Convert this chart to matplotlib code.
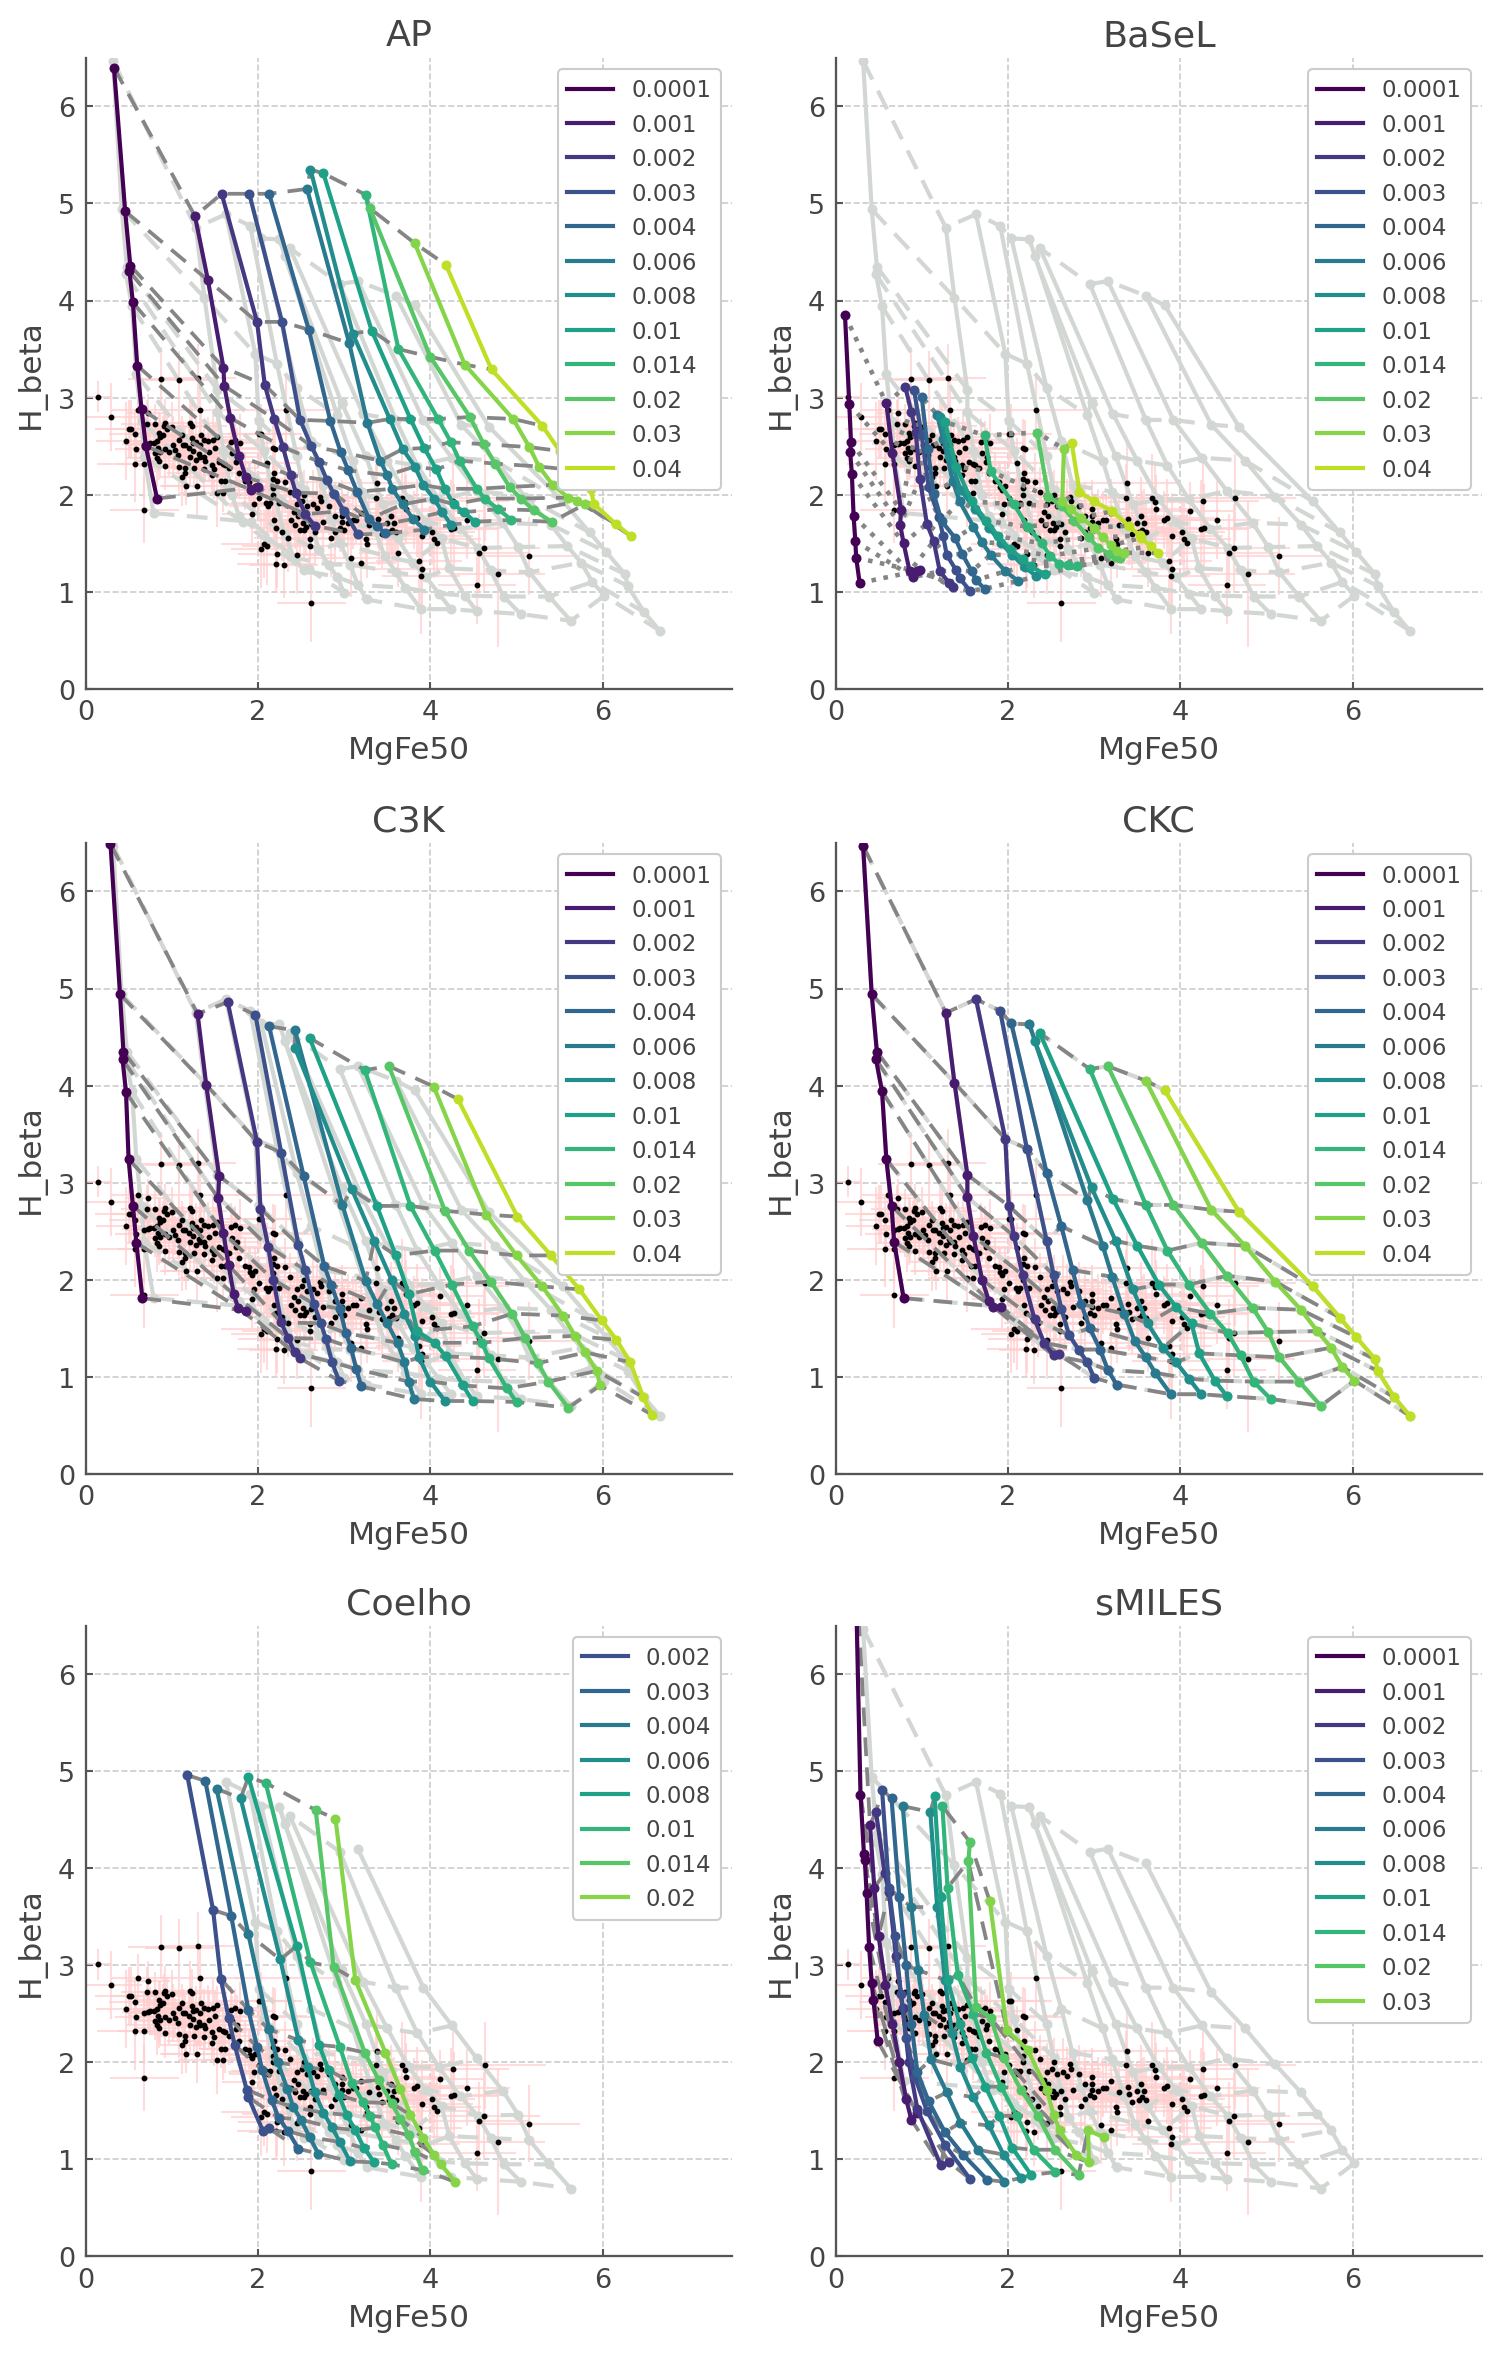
import matplotlib
matplotlib.use('Agg')
import matplotlib.pyplot as plt
from matplotlib.lines import Line2D

METALS = ['0.0001', '0.001', '0.002', '0.003', '0.004', '0.006',
          '0.008', '0.01', '0.014', '0.02', '0.03', '0.04']
COELHO_METALS = METALS[2:10]
SMILES_METALS = METALS[:11]

# observed galaxies (MgFe50, H_beta) with errors
OBS_MGFE = [
    0.15, 0.30, 0.88, 1.09, 1.30, 0.61, 0.73, 0.71, 0.81, 0.51,
    0.53, 0.57, 0.47, 0.59, 0.58, 0.68, 0.68, 0.92, 0.91, 0.95,
    1.00, 0.85, 0.90, 0.86, 0.83, 0.80, 0.75, 0.72, 0.68, 0.84,
    0.92, 0.86, 0.81, 0.83, 0.85, 0.92, 1.01, 1.04, 0.97, 1.07,
    1.13, 1.08, 1.12, 1.21, 1.24, 1.23, 1.25, 1.28, 1.33, 1.33,
    1.34, 1.37, 1.42, 1.48, 1.52, 1.32, 1.25, 1.20, 1.16, 1.21,
    1.28, 1.33, 1.38, 1.43, 1.39, 1.47, 1.49, 1.47, 1.37, 1.26,
    1.16, 1.15, 1.12, 1.09, 1.17, 1.29, 1.50, 1.55, 1.59, 1.62,
    1.66, 1.57, 1.62, 1.52, 1.59, 1.69, 1.74, 1.79, 1.70, 1.76,
    1.75, 1.78, 1.85, 1.90, 1.91, 1.93, 1.97, 2.01, 2.17, 1.95,
    2.01, 1.93, 2.09, 2.19, 2.22, 2.17, 2.17, 2.12, 2.07, 2.11,
    2.19, 2.21, 2.22,
    2.33, 2.04, 2.20, 2.10, 2.17, 2.31, 2.37, 2.14, 2.24, 2.45,
    2.54, 2.51, 2.57, 2.64, 2.72, 2.73, 2.68, 2.42, 2.47, 2.52,
    2.56, 2.62, 2.49, 2.54, 2.43, 2.38, 2.66, 2.60, 2.85, 2.61,
    2.82, 2.89, 2.97, 2.98, 2.98, 3.04, 3.10, 3.14, 3.20, 3.29,
    3.00, 2.95, 3.38, 3.37, 3.39, 3.41, 3.44, 3.50, 3.52, 3.56,
    3.58, 3.60, 3.54, 3.25, 3.27, 3.08, 3.20, 3.62, 3.67, 3.71,
    3.72, 3.81, 3.85, 3.90, 4.02, 4.04, 4.08, 4.11, 4.26, 4.27,
    4.56, 3.90, 3.87, 4.54, 4.62, 4.78, 5.14, 4.64, 4.43, 4.24,
    3.89, 2.62, 2.21, 2.04, 2.30, 2.45, 2.35, 2.28, 2.75, 2.90,
]
OBS_HBETA = [
    3.01, 2.80, 3.19, 3.18, 3.20, 2.87, 2.84, 2.73, 2.73, 2.68,
    2.68, 2.62, 2.55, 2.47, 2.32, 2.32, 1.84, 2.74, 2.71, 2.68,
    2.70, 2.64, 2.61, 2.59, 2.55, 2.53, 2.53, 2.52, 2.51, 2.48,
    2.47, 2.44, 2.43, 2.38, 2.35, 2.30, 2.51, 2.46, 2.44, 2.41,
    2.51, 2.56, 2.61, 2.74, 2.71, 2.58, 2.53, 2.54, 2.51, 2.87,
    2.61, 2.56, 2.55, 2.56, 2.59, 2.42, 2.45, 2.48, 2.51, 2.39,
    2.36, 2.39, 2.39, 2.44, 2.35, 2.31, 2.26, 2.20, 2.26, 2.27,
    2.27, 2.22, 2.18, 2.29, 2.09, 2.09, 2.48, 2.34, 2.32, 2.31,
    2.27, 2.14, 2.14, 2.02, 2.02, 2.54, 2.56, 2.53, 2.43, 2.39,
    2.34, 2.22, 2.14, 2.13, 2.08, 2.05, 2.09, 2.63, 2.48, 1.90,
    1.97, 1.80, 1.91, 2.22, 2.14, 2.07, 2.00, 1.88, 1.49, 1.47,
    1.74, 1.66, 1.39,
    2.87, 2.63, 2.47, 2.33, 2.16, 2.13, 2.03, 1.91, 1.91, 1.90,
    2.00, 1.93, 1.88, 1.90, 1.98, 1.93, 1.86, 1.82, 1.78, 1.71,
    1.67, 1.70, 1.64, 1.64, 1.69, 1.74, 1.62, 1.47, 1.55, 1.54,
    1.88, 1.78, 1.85, 1.78, 1.72, 1.71, 1.74, 1.74, 1.81, 1.69,
    1.64, 1.66, 2.12, 1.97, 1.75, 1.67, 1.59, 1.71, 1.61, 1.64,
    1.71, 1.61, 1.78, 1.54, 1.49, 1.35, 1.30, 1.40, 1.97, 1.92,
    1.85, 1.74, 1.76, 1.57, 1.62, 1.54, 1.50, 1.83, 1.93, 1.66,
    1.40, 1.23, 1.32, 1.07, 1.45, 1.18, 1.37, 1.97, 1.74, 1.65,
    1.16, 0.88, 1.29, 1.44, 1.28, 1.38, 1.55, 1.62, 1.72, 1.62,
]
OBS_MGFE_ERR = [
    0.15, 0.35, 0.39, 0.40, 0.45, 0.30, 0.25, 0.30, 0.20, 0.40,
    0.25, 0.30, 0.35, 0.25, 0.45, 0.30, 0.40, 0.20, 0.25, 0.20,
    0.30, 0.25, 0.20, 0.25, 0.30, 0.25, 0.20, 0.30, 0.20, 0.35,
    0.25, 0.30, 0.20, 0.35, 0.25, 0.30, 0.40, 0.20, 0.25, 0.30,
    0.20, 0.35, 0.25, 0.30, 0.40, 0.20, 0.25, 0.30, 0.20, 0.45,
    0.25, 0.30, 0.20, 0.35, 0.25, 0.30, 0.20, 0.25, 0.30, 0.35,
    0.20, 0.30, 0.25, 0.40, 0.20, 0.30, 0.25, 0.20, 0.35, 0.25,
    0.30, 0.20, 0.25, 0.35, 0.30, 0.40, 0.25, 0.30, 0.20, 0.25,
    0.35, 0.25, 0.30, 0.45, 0.20, 0.30, 0.25, 0.40, 0.30, 0.35,
    0.25, 0.30, 0.35, 0.20, 0.30, 0.25, 0.35, 0.50, 0.40, 0.30,
    0.25, 0.35, 0.40, 0.30, 0.25, 0.30, 0.35, 0.45, 0.50, 0.30,
    0.35, 0.30, 0.45,
    0.60, 0.40, 0.45, 0.35, 0.30, 0.40, 0.35, 0.30, 0.40, 0.45,
    0.35, 0.40, 0.30, 0.45, 0.50, 0.35, 0.40, 0.30, 0.35, 0.40,
    0.30, 0.45, 0.35, 0.40, 0.30, 0.35, 0.50, 0.40, 0.45, 0.35,
    0.40, 0.50, 0.45, 0.35, 0.40, 0.55, 0.45, 0.40, 0.50, 0.45,
    0.35, 0.40, 0.60, 0.50, 0.45, 0.40, 0.55, 0.50, 0.45, 0.40,
    0.50, 0.45, 0.55, 0.40, 0.45, 0.50, 0.40, 0.45, 0.60, 0.55,
    0.50, 0.45, 0.55, 0.60, 0.50, 0.55, 0.45, 0.50, 0.65, 0.55,
    0.60, 0.55, 0.50, 0.45, 0.65, 0.55, 0.60, 0.70, 0.50, 0.55,
    0.45, 0.40, 0.45, 0.35, 0.40, 0.45, 0.40, 0.35, 0.45, 0.40,
]
OBS_HBETA_ERR = [
    0.16, 0.35, 0.33, 0.30, 0.35, 0.25, 0.20, 0.25, 0.20, 0.30,
    0.30, 0.25, 0.40, 0.20, 0.40, 0.35, 0.34, 0.25, 0.20, 0.20,
    0.25, 0.20, 0.20, 0.25, 0.20, 0.20, 0.25, 0.20, 0.20, 0.25,
    0.20, 0.25, 0.20, 0.30, 0.20, 0.25, 0.30, 0.20, 0.25, 0.20,
    0.25, 0.30, 0.20, 0.30, 0.25, 0.20, 0.20, 0.25, 0.20, 0.35,
    0.25, 0.20, 0.25, 0.30, 0.20, 0.25, 0.20, 0.25, 0.20, 0.30,
    0.20, 0.25, 0.20, 0.30, 0.20, 0.25, 0.30, 0.20, 0.25, 0.20,
    0.25, 0.20, 0.30, 0.25, 0.20, 0.30, 0.25, 0.20, 0.25, 0.20,
    0.30, 0.20, 0.25, 0.35, 0.20, 0.25, 0.20, 0.30, 0.25, 0.30,
    0.20, 0.25, 0.30, 0.20, 0.25, 0.20, 0.25, 0.35, 0.30, 0.25,
    0.25, 0.30, 0.25, 0.30, 0.20, 0.25, 0.30, 0.25, 0.35, 0.40,
    0.30, 0.25, 0.35,
    0.35, 0.30, 0.30, 0.25, 0.25, 0.30, 0.25, 0.30, 0.25, 0.30,
    0.25, 0.30, 0.25, 0.35, 0.30, 0.25, 0.30, 0.25, 0.30, 0.25,
    0.30, 0.25, 0.35, 0.30, 0.25, 0.30, 0.35, 0.30, 0.40, 0.30,
    0.30, 0.35, 0.30, 0.25, 0.30, 0.35, 0.30, 0.25, 0.35, 0.30,
    0.30, 0.25, 0.45, 0.35, 0.30, 0.40, 0.35, 0.30, 0.35, 0.40,
    0.35, 0.30, 0.40, 0.30, 0.35, 0.40, 0.30, 0.35, 0.45, 0.40,
    0.35, 0.30, 0.40, 0.45, 0.35, 0.40, 0.35, 0.30, 0.40, 0.45,
    0.40, 0.45, 0.50, 0.40, 0.45, 0.75, 0.40, 0.45, 0.40, 0.50,
    0.60, 0.40, 0.30, 0.40, 0.35, 0.40, 0.35, 0.30, 0.40, 0.35,
]

# model grids: one row per metallicity, one value per age (young -> old)
AP_MGFE = [
    [0.33, 0.46, 0.52, 0.51, 0.55, 0.60, 0.65, 0.70, 0.83],
    [1.27, 1.42, 1.60, 1.61, 1.68, 1.78, 1.86, 1.92, 2.00],
    [1.58, 1.99, 2.08, 2.19, 2.29, 2.38, 2.44, 2.55, 2.66],
    [1.90, 2.28, 2.49, 2.62, 2.71, 2.80, 2.88, 3.00, 3.16],
    [2.13, 2.59, 2.84, 2.96, 3.05, 3.15, 3.29, 3.38, 3.48],
    [2.57, 3.06, 3.27, 3.42, 3.50, 3.56, 3.68, 3.80, 3.93],
    [2.61, 3.10, 3.53, 3.68, 3.82, 3.92, 4.04, 4.14, 4.24],
    [2.76, 3.32, 3.77, 3.93, 4.07, 4.17, 4.27, 4.39, 4.52],
    [3.25, 3.63, 4.09, 4.24, 4.34, 4.54, 4.63, 4.79, 4.94],
    [3.30, 4.00, 4.46, 4.62, 4.75, 4.92, 5.05, 5.20, 5.41],
    [3.82, 4.40, 4.96, 5.15, 5.26, 5.42, 5.60, 5.70, 5.79],
    [4.18, 4.71, 5.30, 5.50, 5.70, 5.86, 5.90, 6.15, 6.33],
]
AP_HBETA = [
    [6.40, 4.92, 4.36, 4.30, 3.98, 3.33, 2.88, 2.50, 1.96],
    [4.87, 4.21, 3.31, 3.12, 2.79, 2.40, 2.18, 2.05, 2.08],
    [5.10, 3.78, 3.13, 2.78, 2.49, 2.20, 2.02, 1.80, 1.68],
    [5.10, 3.78, 2.77, 2.50, 2.34, 2.15, 2.01, 1.83, 1.59],
    [5.10, 3.70, 2.76, 2.44, 2.25, 2.03, 1.75, 1.68, 1.60],
    [5.15, 3.56, 2.74, 2.35, 2.20, 2.06, 1.90, 1.75, 1.64],
    [5.35, 3.66, 2.78, 2.47, 2.29, 2.10, 1.96, 1.82, 1.69],
    [5.31, 3.69, 2.78, 2.48, 2.26, 2.06, 1.90, 1.82, 1.72],
    [5.09, 3.50, 2.78, 2.54, 2.35, 2.06, 1.96, 1.85, 1.74],
    [4.95, 3.42, 2.80, 2.52, 2.32, 2.08, 1.96, 1.84, 1.72],
    [4.59, 3.34, 2.78, 2.49, 2.29, 2.10, 1.97, 1.93, 1.90],
    [4.37, 3.29, 2.71, 2.45, 2.25, 2.06, 1.90, 1.70, 1.57],
]

BASEL_MGFE = [
    [0.11, 0.16, 0.18, 0.17, 0.19, 0.21, 0.23, 0.24, 0.28],
    [0.59, 0.66, 0.76, 0.75, 0.79, 0.86, 0.90, 0.95, 0.98],
    [0.81, 0.88, 0.93, 0.98, 1.06, 1.14, 1.21, 1.32, 1.36],
    [0.91, 1.00, 1.08, 1.20, 1.25, 1.29, 1.40, 1.44, 1.56],
    [1.00, 1.07, 1.14, 1.23, 1.39, 1.47, 1.58, 1.63, 1.73],
    [1.18, 1.25, 1.36, 1.44, 1.60, 1.70, 1.80, 1.97, 2.12],
    [1.21, 1.32, 1.45, 1.62, 1.78, 1.92, 2.05, 2.20, 2.33],
    [1.27, 1.40, 1.58, 1.75, 1.89, 2.02, 2.17, 2.27, 2.43],
    [1.73, 1.80, 2.07, 2.23, 2.39, 2.49, 2.59, 2.70, 2.80],
    [2.34, 2.47, 2.63, 2.77, 2.94, 3.05, 3.19, 3.25, 3.30],
    [2.65, 2.63, 2.73, 2.85, 3.00, 3.10, 3.20, 3.27, 3.35],
    [2.74, 2.83, 3.00, 3.21, 3.40, 3.53, 3.54, 3.66, 3.74],
]
BASEL_HBETA = [
    [3.85, 2.93, 2.54, 2.44, 2.21, 1.78, 1.52, 1.35, 1.09],
    [2.94, 2.43, 1.84, 1.69, 1.50, 1.21, 1.15, 1.21, 1.22],
    [3.11, 2.85, 2.65, 2.16, 1.70, 1.52, 1.21, 1.09, 1.05],
    [3.08, 2.61, 2.08, 1.77, 1.57, 1.38, 1.22, 1.14, 1.01],
    [3.01, 2.47, 2.01, 1.73, 1.55, 1.39, 1.21, 1.12, 1.03],
    [2.82, 2.57, 2.14, 1.93, 1.67, 1.51, 1.38, 1.21, 1.11],
    [2.80, 2.40, 2.05, 1.85, 1.66, 1.50, 1.38, 1.25, 1.16],
    [2.75, 2.29, 1.93, 1.73, 1.57, 1.44, 1.34, 1.26, 1.18],
    [2.61, 2.24, 1.90, 1.67, 1.50, 1.37, 1.29, 1.27, 1.26],
    [2.64, 1.98, 1.88, 1.73, 1.56, 1.45, 1.39, 1.36, 1.35],
    [2.47, 1.93, 1.85, 1.76, 1.66, 1.56, 1.48, 1.42, 1.40],
    [2.53, 2.03, 1.93, 1.83, 1.68, 1.58, 1.55, 1.47, 1.40],
]

C3K_MGFE = [
    [0.29, 0.40, 0.44, 0.43, 0.47, 0.50, 0.55, 0.59, 0.66],
    [1.30, 1.40, 1.55, 1.54, 1.60, 1.66, 1.72, 1.77, 1.86],
    [1.65, 1.99, 2.03, 2.12, 2.18, 2.27, 2.35, 2.43, 2.49],
    [1.97, 2.27, 2.47, 2.55, 2.65, 2.73, 2.79, 2.86, 2.94],
    [2.13, 2.53, 2.77, 2.85, 2.95, 3.02, 3.08, 3.14, 3.20],
    [2.43, 2.98, 3.25, 3.38, 3.50, 3.62, 3.70, 3.75, 3.81],
    [2.43, 3.09, 3.35, 3.55, 3.70, 3.82, 3.87, 4.00, 4.17],
    [2.60, 3.38, 3.60, 3.75, 3.85, 4.05, 4.18, 4.38, 4.49],
    [3.24, 3.77, 4.05, 4.25, 4.49, 4.60, 4.68, 4.89, 5.00],
    [3.52, 4.17, 4.45, 4.70, 4.95, 5.10, 5.25, 5.37, 5.60],
    [4.04, 4.65, 5.00, 5.30, 5.54, 5.68, 5.80, 5.93, 5.97],
    [4.32, 5.01, 5.40, 5.73, 5.99, 6.16, 6.32, 6.47, 6.57],
]
C3K_HBETA = [
    [6.49, 4.94, 4.35, 4.27, 3.93, 3.24, 2.76, 2.38, 1.81],
    [4.74, 4.01, 3.07, 2.84, 2.48, 2.15, 1.85, 1.71, 1.68],
    [4.86, 3.42, 2.73, 2.34, 2.00, 1.56, 1.40, 1.25, 1.19],
    [4.73, 3.31, 2.36, 2.10, 1.75, 1.55, 1.39, 1.15, 0.96],
    [4.61, 3.07, 2.14, 1.95, 1.70, 1.45, 1.30, 1.08, 0.90],
    [4.57, 2.77, 1.99, 1.75, 1.55, 1.35, 1.15, 0.95, 0.77],
    [4.39, 2.93, 2.40, 2.00, 1.65, 1.42, 1.20, 0.95, 0.75],
    [4.49, 2.76, 2.25, 1.85, 1.47, 1.35, 1.21, 0.91, 0.75],
    [4.16, 2.76, 2.30, 1.95, 1.52, 1.35, 1.19, 0.88, 0.74],
    [4.20, 2.71, 2.30, 1.98, 1.65, 1.40, 1.14, 0.95, 0.68],
    [3.99, 2.67, 2.25, 1.93, 1.63, 1.42, 1.25, 1.06, 0.91],
    [3.86, 2.65, 2.25, 1.90, 1.58, 1.38, 1.15, 0.79, 0.61],
]

CKC_MGFE = [
    [0.32, 0.42, 0.48, 0.47, 0.54, 0.59, 0.65, 0.68, 0.79],
    [1.28, 1.38, 1.53, 1.53, 1.60, 1.70, 1.78, 1.83, 1.92],
    [1.63, 1.97, 2.01, 2.07, 2.17, 2.31, 2.42, 2.53, 2.59],
    [1.91, 2.22, 2.45, 2.53, 2.62, 2.71, 2.82, 2.92, 3.00],
    [2.04, 2.45, 2.62, 2.75, 2.85, 2.95, 3.07, 3.16, 3.26],
    [2.25, 2.92, 3.10, 3.21, 3.35, 3.47, 3.60, 3.71, 3.89],
    [2.31, 2.97, 3.25, 3.45, 3.62, 3.80, 3.95, 4.10, 4.24],
    [2.37, 3.22, 3.50, 3.75, 3.95, 4.13, 4.22, 4.40, 4.54],
    [2.95, 3.60, 3.85, 4.10, 4.35, 4.55, 4.70, 4.85, 5.05],
    [3.16, 3.92, 4.25, 4.54, 4.84, 5.02, 5.15, 5.38, 5.63],
    [3.60, 4.36, 4.75, 5.10, 5.40, 5.59, 5.75, 5.88, 6.02],
    [3.82, 4.68, 5.54, 5.85, 6.04, 6.26, 6.29, 6.48, 6.66],
]
CKC_HBETA = [
    [6.47, 4.94, 4.35, 4.27, 3.94, 3.24, 2.76, 2.39, 1.81],
    [4.75, 4.03, 3.08, 2.85, 2.45, 2.00, 1.78, 1.72, 1.72],
    [4.89, 3.45, 2.76, 2.45, 2.05, 1.59, 1.35, 1.22, 1.23],
    [4.77, 3.35, 2.40, 2.05, 1.70, 1.43, 1.28, 1.15, 0.99],
    [4.64, 3.10, 2.55, 2.10, 1.75, 1.50, 1.28, 1.07, 0.92],
    [4.63, 2.82, 2.35, 2.03, 1.65, 1.37, 1.20, 1.04, 0.82],
    [4.46, 2.95, 2.40, 1.90, 1.55, 1.30, 1.15, 0.98, 0.82],
    [4.54, 2.83, 2.35, 1.95, 1.72, 1.55, 1.24, 0.96, 0.80],
    [4.17, 2.77, 2.30, 1.95, 1.65, 1.45, 1.22, 0.95, 0.77],
    [4.20, 2.77, 2.38, 2.04, 1.71, 1.46, 1.20, 0.95, 0.70],
    [4.05, 2.72, 2.35, 1.98, 1.69, 1.47, 1.30, 1.10, 0.96],
    [3.95, 2.70, 1.93, 1.61, 1.41, 1.18, 1.06, 0.79, 0.60],
]

COELHO_MGFE = [
    [1.18, 1.48, 1.57, 1.66, 1.73, 1.87, 1.89, 2.06, 2.13],
    [1.39, 1.69, 1.89, 1.99, 2.05, 2.16, 2.24, 2.35, 2.47],
    [1.52, 1.89, 2.13, 2.23, 2.34, 2.41, 2.50, 2.60, 2.70],
    [1.80, 2.26, 2.47, 2.58, 2.66, 2.76, 2.86, 2.95, 3.07],
    [1.89, 2.45, 2.71, 2.82, 2.94, 3.03, 3.13, 3.23, 3.35],
    [2.09, 2.61, 2.95, 3.09, 3.22, 3.30, 3.36, 3.45, 3.55],
    [2.67, 2.88, 3.24, 3.40, 3.55, 3.65, 3.75, 3.82, 3.91],
    [2.90, 3.13, 3.48, 3.65, 3.77, 3.92, 4.04, 4.12, 4.29],
]
COELHO_HBETA = [
    [4.96, 3.57, 2.86, 2.46, 2.18, 1.72, 1.64, 1.29, 1.32],
    [4.90, 3.51, 2.54, 2.16, 1.92, 1.61, 1.43, 1.29, 1.11],
    [4.82, 3.32, 2.34, 2.00, 1.73, 1.54, 1.41, 1.23, 1.06],
    [4.72, 3.06, 2.23, 1.95, 1.69, 1.48, 1.33, 1.18, 0.98],
    [4.94, 3.20, 2.18, 1.92, 1.66, 1.46, 1.30, 1.12, 0.97],
    [4.88, 3.03, 2.16, 1.79, 1.59, 1.45, 1.33, 1.15, 0.95],
    [4.60, 2.98, 2.10, 1.82, 1.58, 1.42, 1.25, 1.08, 0.89],
    [4.51, 2.85, 2.10, 1.73, 1.46, 1.22, 1.05, 0.95, 0.77],
]

SMILES_MGFE = [
    [0.23, 0.29, 0.33, 0.34, 0.36, 0.39, 0.42, 0.44, 0.49],
    [0.40, 0.45, 0.50, 0.58, 0.66, 0.74, 0.82, 0.88, 0.95],
    [0.47, 0.57, 0.62, 0.70, 0.78, 0.85, 0.95, 1.22, 1.32],
    [0.54, 0.62, 0.69, 0.76, 0.82, 0.92, 1.06, 1.27, 1.56],
    [0.65, 0.74, 0.82, 0.88, 0.95, 1.08, 1.27, 1.48, 1.76],
    [0.78, 0.88, 0.96, 1.03, 1.11, 1.29, 1.45, 1.65, 1.96],
    [1.10, 1.18, 1.27, 1.35, 1.45, 1.60, 1.78, 1.95, 2.15],
    [1.15, 1.22, 1.30, 1.44, 1.58, 1.74, 1.90, 2.05, 2.27],
    [1.24, 1.30, 1.42, 1.60, 1.75, 1.92, 2.10, 2.30, 2.55],
    [1.56, 1.54, 1.63, 1.80, 1.95, 2.15, 2.35, 2.55, 2.82],
    [1.79, 1.99, 2.23, 2.45, 2.53, 2.60, 2.79, 2.94, 2.93, 3.11],
]
SMILES_HBETA = [
    [7.20, 4.76, 4.15, 4.09, 3.75, 3.19, 2.82, 2.64, 2.22],
    [4.45, 3.80, 3.30, 2.80, 2.40, 2.00, 1.62, 1.41, 1.48],
    [4.58, 3.95, 3.76, 3.10, 2.56, 2.00, 1.52, 0.94, 0.97],
    [4.81, 3.80, 3.30, 2.70, 2.25, 1.85, 1.50, 1.15, 0.80],
    [4.72, 3.70, 3.00, 2.40, 1.90, 1.60, 1.28, 1.05, 0.79],
    [4.64, 3.60, 2.95, 2.49, 2.03, 1.69, 1.38, 1.10, 0.77],
    [4.58, 3.60, 2.85, 2.30, 1.95, 1.64, 1.35, 1.05, 0.81],
    [4.74, 3.70, 2.85, 2.40, 2.05, 1.75, 1.45, 1.12, 0.84],
    [4.64, 3.80, 2.90, 2.50, 2.10, 1.75, 1.45, 1.10, 0.87],
    [4.27, 4.07, 2.57, 2.46, 2.05, 1.72, 1.45, 1.10, 0.84],
    [3.66, 2.33, 2.13, 1.72, 1.46, 1.30, 1.05, 0.97, 1.30, 1.23],
]

TEXT = '#444444'
GREY_BG = '#d3d7d3'
GREY_ISO = '#858585'


def viridis_colors(n, offset=0):
    return [plt.cm.viridis(0.9 * (i + offset) / 11) for i in range(n)]


def draw_isochrones(ax, xs, ys, **kw):
    n_age = max(len(x) for x in xs)
    for i in range(n_age):
        px = [x[i] for x in xs if len(x) > i]
        py = [y[i] for y in ys if len(y) > i]
        if len(px) > 1:
            ax.plot(px, py, **kw)


def style_axes(ax, title):
    ax.set_xlim(0, 7.5)
    ax.set_ylim(0, 6.5)
    ax.set_xticks([0, 2, 4, 6])
    ax.set_yticks(range(7))
    ax.grid(True, ls='--', color='#cccccc', lw=0.8)
    ax.set_axisbelow(True)
    for s in ['top', 'right']:
        ax.spines[s].set_visible(False)
    for s in ['left', 'bottom']:
        ax.spines[s].set_color('#555555')
        ax.spines[s].set_linewidth(1.1)
    ax.tick_params(direction='in', length=3.5, width=1.0, color='#555555',
                   labelsize=13, labelcolor=TEXT, pad=5)
    ax.set_xlabel('MgFe50', fontsize=15, color=TEXT)
    ax.set_ylabel('H_beta', fontsize=15, color=TEXT)
    ax.xaxis.set_label_coords(0.5, -0.074)
    ax.yaxis.set_label_coords(-0.062, 0.5)
    ax.set_title(title, fontsize=17.5, color=TEXT, pad=6)


PANELS = [
    ('AP', AP_MGFE, AP_HBETA, METALS, 0, '--'),
    ('BaSeL', BASEL_MGFE, BASEL_HBETA, METALS, 0, ':'),
    ('C3K', C3K_MGFE, C3K_HBETA, METALS, 0, '--'),
    ('CKC', CKC_MGFE, CKC_HBETA, METALS, 0, '--'),
    ('Coelho', COELHO_MGFE, COELHO_HBETA, COELHO_METALS, 3, '--'),
    ('sMILES', SMILES_MGFE, SMILES_HBETA, SMILES_METALS, 0, '--'),
]

fig = plt.figure(figsize=(10, 15.693), dpi=150)
lefts = [0.057, 0.557]
bottoms = [0.707, 0.3735, 0.041]

for k, (name, xs, ys, mets, offset, iso_ls) in enumerate(PANELS):
    ax = fig.add_axes([lefts[k % 2], bottoms[k // 2], 0.431, 0.268])

    # reference grid (CKC) for the same metallicities, in light grey
    idx = [METALS.index(m) for m in mets]
    bg_x = [CKC_MGFE[i] for i in idx]
    bg_y = [CKC_HBETA[i] for i in idx]
    draw_isochrones(ax, bg_x, bg_y, ls='--', color=GREY_BG, lw=2.0,
                    dashes=(5, 3), zorder=2)
    for x, y in zip(bg_x, bg_y):
        ax.plot(x, y, '-o', color=GREY_BG, lw=2.0, ms=3.8, zorder=2)

    # observed galaxies
    ax.errorbar(OBS_MGFE, OBS_HBETA, xerr=OBS_MGFE_ERR, yerr=OBS_HBETA_ERR,
                fmt='none', ecolor='#ffcfcf', elinewidth=1.0, alpha=0.75,
                capsize=0, zorder=1)
    ax.plot(OBS_MGFE, OBS_HBETA, 'o', color='black', ms=1.8, zorder=3)

    # model grid
    if iso_ls == ':':
        draw_isochrones(ax, xs, ys, ls=':', color=GREY_ISO, lw=2.2, zorder=4)
    else:
        draw_isochrones(ax, xs, ys, ls='--', color=GREY_ISO, lw=1.8,
                        dashes=(5, 3), zorder=4)
    colors = viridis_colors(len(mets), offset)
    handles = []
    for x, y, c, m in zip(xs, ys, colors, mets):
        ax.plot(x, y, '-o', color=c, lw=2.0, ms=3.8, zorder=5)
        handles.append(Line2D([], [], color=c, lw=2.0, label=m))

    leg = ax.legend(handles=handles, loc='upper right', fontsize=11,
                    handlelength=2.0, framealpha=1.0, edgecolor='#cccccc',
                    borderaxespad=0.5)
    for t in leg.get_texts():
        t.set_color(TEXT)

    style_axes(ax, name)

fig.savefig('out.png', dpi=150)
